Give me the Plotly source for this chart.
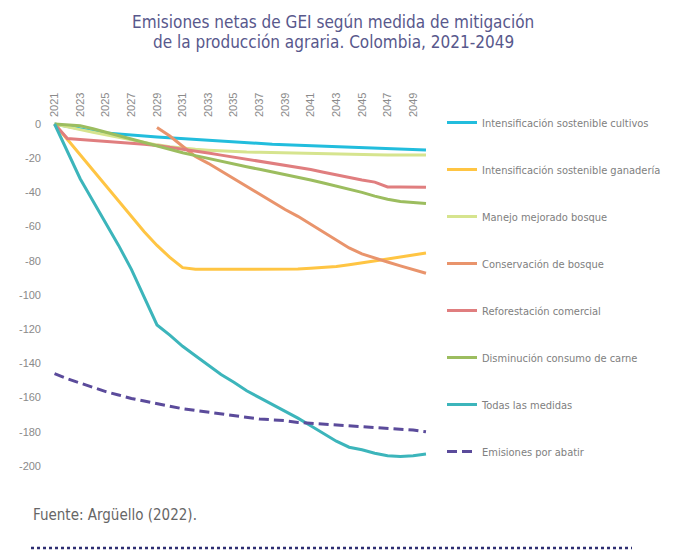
import plotly.graph_objects as go

years = list(range(2021, 2051))

cultivos = [0, -1.5, -3, -4.3, -5.3, -6, -6.5, -7, -7.6, -8.1, -8.6, -9, -9.5, -10, -10.5,
            -11, -11.4, -11.8, -12.1, -12.4, -12.7, -13.1, -13.4, -13.7, -14, -14.3, -14.5, -14.8, -15, -15.2]
ganaderia = [0, -9, -18, -27, -36, -45, -54, -63, -71, -78, -84, -85, -85, -85, -85,
             -85, -85, -85, -85, -84.8, -84.3, -83.8, -83.3, -82.3, -81.3, -80.3, -79, -77.8, -76.7, -75.5]
manejo_bosque = [0, -1.8, -3.3, -4.8, -6.3, -7.8, -9.3, -10.8, -12.2, -13.3, -14.2, -14.8, -15.3, -15.8, -16.1,
                 -16.4, -16.6, -16.8, -17, -17.1, -17.3, -17.5, -17.7, -17.9, -18, -18, -18.1, -18.1, -18.1, -18.1]
conservacion = [None, None, None, None, None, None, None, None, -2, -7, -13, -19, -23, -27.5, -32,
                -37, -41, -45.5, -50, -54, -58.5, -63.5, -67.5, -72.5, -76, -78.5, -80.7, -83, -85.2, -87.3]
reforestacion = [0, -8.5, -9, -9.5, -10, -10.5, -11.2, -11.8, -12.6, -13.6, -14.7, -15.8, -17, -18.2, -19.4,
                 -20.6, -21.8, -22.9, -24, -25.2, -26.6, -28.2, -29.8, -31.4, -32.8, -34, -36.8, -36.8, -36.9, -37]
carne = [0, -0.3, -1, -2.8, -4.8, -6.8, -8.8, -11, -13.2, -15.2, -16.8, -18.5, -20.2, -21.8, -23.3,
         -25, -26.5, -28, -29.5, -31.2, -32.8, -34.5, -36.2, -38, -40, -42.2, -44, -45.3, -46, -46.5]
todas = [0, -16, -32, -45, -58, -71, -85, -101, -117.5, -123.5, -130, -135.5, -141, -146.5, -151,
         -156, -160, -164, -168, -172, -176.5, -181, -185.5, -189, -190.5, -192.5, -194, -194.5, -194, -193]
por_abatir = [-146, -149, -151.5, -154, -156.5, -158.5, -160.5, -162, -163.5, -165, -166.5, -167.5, -168.5, -169.5, -170.5,
              -171.5, -172.5, -173, -173.5, -174.5, -175, -175.5, -176, -176.5, -177, -177.5, -178, -178.5, -179, -180]

x_ticks = list(range(2021, 2050, 2))
y_ticks = list(range(0, -201, -20))
y_labels = [str(v) for v in y_ticks]

series = [
    ("Intensificación sostenible cultivos", cultivos, "#22bddd", "solid"),
    ("Intensificación sostenible ganadería", ganaderia, "#ffc543", "solid"),
    ("Manejo mejorado bosque", manejo_bosque, "#d6e48e", "solid"),
    ("Conservación de bosque", conservacion, "#e9946c", "solid"),
    ("Reforestación comercial", reforestacion, "#e07e7f", "solid"),
    ("Disminución consumo de carne", carne, "#9cbd5f", "solid"),
    ("Todas las medidas", todas, "#3cb5bb", "solid"),
    ("Emisiones por abatir", por_abatir, "#5b4b9b", "10px,5px"),
]

narrow = "DejaVu Sans Condensed, Liberation Sans Narrow, sans-serif"

# the page body has an 8px margin, so the figure is 680x544 placed at (8, 8)
W, H = 680, 544


def px(x):
    return (x - 8) / W


def py(y):
    return 1 - (y - 8) / H


fig = go.Figure()
for i, (name, vals, color, dash) in enumerate(series):
    fig.add_trace(go.Scatter(
        x=years, y=vals, name=name, mode="lines",
        line=dict(color=color, width=3, dash=dash),
        legendgroup=str(i), connectgaps=False,
    ))

fig.update_layout(
    width=W, height=H,
    margin=dict(l=0, r=0, t=0, b=0),
    paper_bgcolor="white", plot_bgcolor="white",
    xaxis=dict(
        domain=[px(42), px(432)], range=[2020.02, 2050.47],
        side="top", tickvals=x_ticks, tickangle=-90,
        showgrid=False, zeroline=False, showline=False,
        tickfont=dict(family="Liberation Sans, Arial", size=11, color="#8a8a8a"),
    ),
    yaxis=dict(
        domain=[py(472), py(118)], range=[-203.5, 3.5],
        tickvals=y_ticks, ticktext=y_labels,
        showgrid=False, zeroline=False, showline=False,
        tickfont=dict(family="Liberation Sans, Arial", size=11, color="#8a8a8a"),
    ),
    legend=dict(
        x=px(442), y=py(108), xanchor="left", yanchor="top",
        traceorder="grouped", tracegroupgap=28,
        font=dict(family=narrow, size=11, color="#808080"),
        bgcolor="rgba(0,0,0,0)",
    ),
    showlegend=True,
)

fig.add_annotation(
    text="Emisiones netas de GEI según medida de mitigación",
    x=px(333), y=py(10), xref="paper", yref="paper",
    xanchor="center", yanchor="top", showarrow=False,
    font=dict(family=narrow, size=17, color="#58588c"),
)
fig.add_annotation(
    text="de la producción agraria. Colombia, 2021-2049",
    x=px(333), y=py(30), xref="paper", yref="paper",
    xanchor="center", yanchor="top", showarrow=False,
    font=dict(family=narrow, size=17, color="#58588c"),
)
fig.add_annotation(
    text="Fuente: Argüello (2022).",
    x=px(31), y=py(515), xref="paper", yref="paper",
    xanchor="left", yanchor="middle", showarrow=False,
    font=dict(family=narrow, size=15, color="#666666"),
)
fig.add_shape(type="line", xref="paper", yref="paper",
              x0=px(31), x1=px(632), y0=py(548), y1=py(548),
              line=dict(color="#2e2e72", width=2.5, dash="dot"))
fig.add_shape(type="line", xref="paper", yref="paper",
              x0=px(685), x1=px(685), y0=0, y1=1,
              line=dict(color="#dcdcdc", width=2))

fig.write_html("out.html")
